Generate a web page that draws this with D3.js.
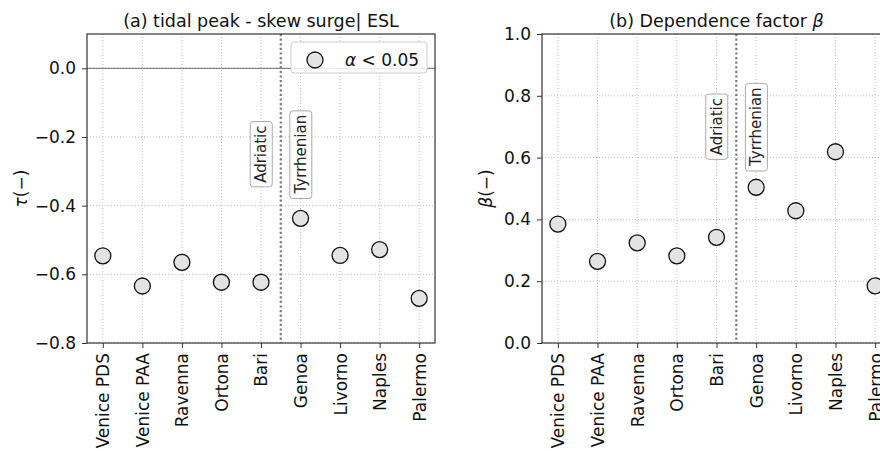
<!DOCTYPE html>
<html>
<head>
<meta charset="utf-8">
<script src="https://cdn.jsdelivr.net/npm/d3@7"></script>
<style>
  body { margin: 0; background: #fff; }
  svg { font-family: "DejaVu Sans", sans-serif; display: block; }
</style>
</head>
<body>
<script>
var stations = ["Venice PDS", "Venice PAA", "Ravenna", "Ortona", "Bari", "Genoa", "Livorno", "Naples", "Palermo"];
var tauValues = [-0.546, -0.634, -0.565, -0.623, -0.623, -0.437, -0.545, -0.528, -0.670];
var betaValues = [0.385, 0.264, 0.324, 0.282, 0.342, 0.504, 0.428, 0.619, 0.185];
var tauTicks = [-0.8, -0.6, -0.4, -0.2, 0.0];
var betaTicks = [0.0, 0.2, 0.4, 0.6, 0.8, 1.0];

var width = 880, height = 451;
var top_ = 34, bottom = 343;
var fs = 17;

var svg = d3.select("body").append("svg")
    .attr("width", width)
    .attr("height", height);

function panel(opts) {
  var x = d3.scaleLinear().domain([-0.4, stations.length - 1 + 0.4]).range([opts.left, opts.right]);
  var y = d3.scaleLinear().domain(opts.yDomain).range([bottom, top_]);
  var g = svg.append("g");

  // grid
  g.selectAll(".gx").data(stations).enter().append("line")
      .attr("x1", function(d, i) { return x(i); })
      .attr("x2", function(d, i) { return x(i); })
      .attr("y1", top_).attr("y2", bottom)
      .attr("stroke", "#b0b0b0").attr("stroke-width", 0.8).attr("stroke-dasharray", "1,2");
  g.selectAll(".gy").data(opts.ticks).enter().append("line")
      .attr("x1", opts.left).attr("x2", opts.right)
      .attr("y1", function(d) { return y(d); })
      .attr("y2", function(d) { return y(d); })
      .attr("stroke", "#b0b0b0").attr("stroke-width", 0.8).attr("stroke-dasharray", "1,2");

  if (opts.zeroLine) {
    g.append("line")
        .attr("x1", opts.left).attr("x2", opts.right)
        .attr("y1", y(0)).attr("y2", y(0))
        .attr("stroke", "#333").attr("stroke-width", 0.7);
  }

  // separation Adriatic / Tyrrhenian
  g.append("line")
      .attr("x1", x(4.5)).attr("x2", x(4.5))
      .attr("y1", top_).attr("y2", bottom)
      .attr("stroke", "#7a7a7a").attr("stroke-width", 2.2).attr("stroke-dasharray", "2.2,2.4");

  [["Adriatic", 4], ["Tyrrhenian", 5]].forEach(function(lab) {
    var tg = g.append("g")
        .attr("transform", "translate(" + x(lab[1]) + "," + y(opts.labelY) + ") rotate(-90)");
    var t = tg.append("text")
        .attr("text-anchor", "middle")
        .attr("dy", "0.35em")
        .attr("font-size", 15)
        .attr("fill", "#222")
        .text(lab[0]);
    var bb = t.node().getBBox();
    tg.insert("rect", "text")
        .attr("x", bb.x - 4).attr("y", bb.y - 2)
        .attr("width", bb.width + 8).attr("height", bb.height + 4)
        .attr("rx", 3)
        .attr("fill", "#fff").attr("stroke", "#aaa").attr("stroke-width", 1);
  });

  // points
  g.selectAll(".pt").data(opts.values).enter().append("circle")
      .attr("cx", function(d, i) { return x(i); })
      .attr("cy", function(d) { return y(d); })
      .attr("r", 8)
      .attr("fill", "#e3e3e3").attr("stroke", "#111").attr("stroke-width", 1.3);

  // axes
  var yAxis = d3.axisLeft(y).tickValues(opts.ticks).tickFormat(d3.format(".1f")).tickSize(5).tickPadding(6);
  var yg = g.append("g").attr("transform", "translate(" + opts.left + ",0)").call(yAxis)
      .attr("font-family", null).attr("font-size", null);
  yg.select(".domain").remove();
  yg.selectAll("text").attr("font-size", fs).attr("fill", "#111");
  yg.selectAll("line").attr("stroke", "#333");

  var xAxis = d3.axisBottom(x).tickValues(d3.range(stations.length))
      .tickFormat(function(i) { return stations[i]; }).tickSize(5).tickPadding(4);
  var xg = g.append("g").attr("transform", "translate(0," + bottom + ")").call(xAxis)
      .attr("font-family", null).attr("font-size", null);
  xg.select(".domain").remove();
  xg.selectAll("line").attr("stroke", "#333");
  xg.selectAll("text")
      .attr("font-size", fs).attr("fill", "#111")
      .attr("transform", "rotate(-90)")
      .attr("text-anchor", "end")
      .attr("x", -10).attr("y", 0).attr("dy", "0.35em");

  // spines
  g.append("rect")
      .attr("x", opts.left).attr("y", top_)
      .attr("width", opts.right - opts.left).attr("height", bottom - top_)
      .attr("fill", "none").attr("stroke", "#333").attr("stroke-width", 1.2);

  // title
  var title = g.append("text")
      .attr("x", (opts.left + opts.right) / 2).attr("y", 26.5)
      .attr("text-anchor", "middle").attr("font-size", 17.5).attr("fill", "#111");
  title.append("tspan").text(opts.title);
  if (opts.titleSym) title.append("tspan").attr("font-style", "italic").text(opts.titleSym);

  // y label
  var yl = g.append("text")
      .attr("transform", "translate(" + opts.yLabelX + "," + ((top_ + bottom) / 2) + ") rotate(-90)")
      .attr("text-anchor", "middle").attr("font-size", fs).attr("fill", "#111");
  yl.append("tspan").attr("font-style", "italic").text(opts.yLabelSym);
  yl.append("tspan").text("(−)");

  return { x: x, y: y, g: g };
}

var a = panel({
  left: 87, right: 435, yDomain: [-0.8, 0.1], ticks: tauTicks, values: tauValues,
  title: "(a) tidal peak - skew surge| ESL", titleSym: "", yLabelSym: "τ", yLabelX: 27,
  labelY: -0.25, zeroLine: true
});

var b = panel({
  left: 542, right: 891, yDomain: [0, 1], ticks: betaTicks, values: betaValues,
  title: "(b) Dependence factor ", titleSym: "β", yLabelSym: "β", yLabelX: 492,
  labelY: 0.7, zeroLine: false
});

// legend in panel (a)
var lg = a.g.append("g");
lg.append("rect")
    .attr("x", 291).attr("y", 42).attr("width", 136).attr("height", 31).attr("rx", 3)
    .attr("fill", "#fff").attr("fill-opacity", 0.85).attr("stroke", "#ccc").attr("stroke-width", 1);
lg.append("circle")
    .attr("cx", 315).attr("cy", 60).attr("r", 8)
    .attr("fill", "#e3e3e3").attr("stroke", "#111").attr("stroke-width", 1.3);
var lt = lg.append("text").attr("x", 345).attr("y", 66).attr("font-size", fs).attr("fill", "#111");
lt.append("tspan").attr("font-style", "italic").text("α");
lt.append("tspan").text(" < 0.05");
</script>
</body>
</html>
